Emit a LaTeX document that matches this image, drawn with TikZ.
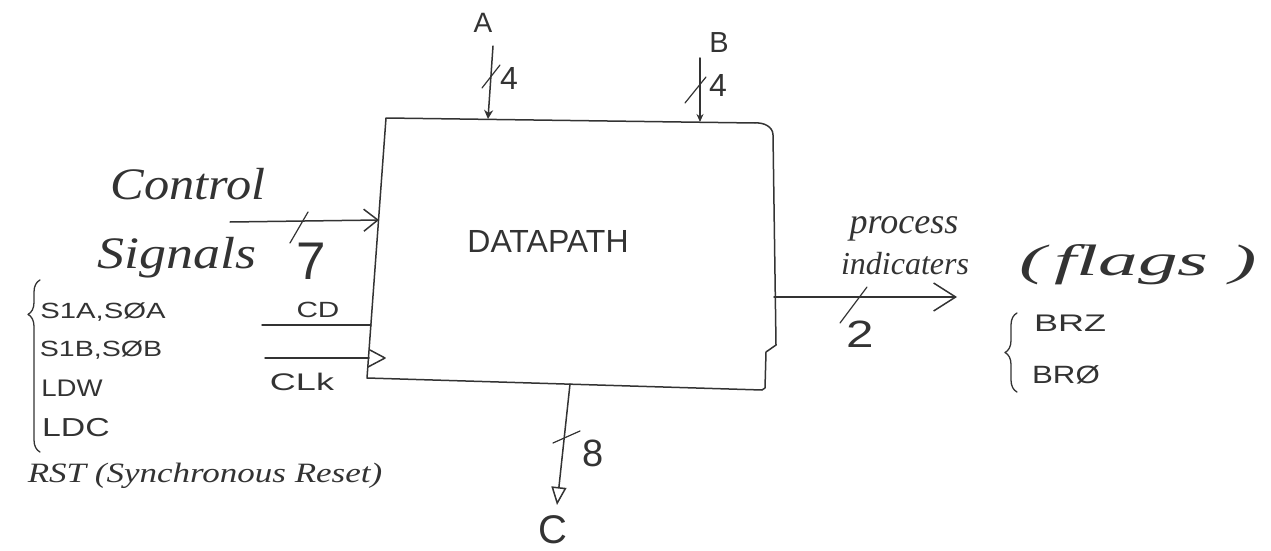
\documentclass[tikz,border=0pt]{standalone}
\usepackage{graphicx}
\usepackage{fontspec}
\setmainfont{Liberation Sans}
\newfontfamily\cursivefont{Liberation Serif}
\usetikzlibrary{arrows.meta,decorations.pathreplacing}
\newcommand\hsc[2]{\scalebox{#1}[1]{#2}}
\newcommand\fs[1]{\fontsize{#1}{#1}\selectfont}
\begin{document}
\begin{tikzpicture}[x=1pt,y=-1pt,
  line/.style={draw=black!80,line width=1.5pt,line cap=round,line join=round},
  busslash/.style={line,line width=1.2pt},
  lbl/.style={inner sep=0pt,text=black!80},
  hand/.style={inner sep=0pt,text=black!80,font=\cursivefont\itshape},
  bracestyle/.style={line,line width=1.3pt,decorate,decoration={brace,amplitude=12pt}}]
\useasboundingbox (0,0) rectangle (1271,551);
% ---------------- main block
\coordinate (TL) at (386,118);
\coordinate (TR) at (773,135);
\coordinate (BR) at (762,390);
\coordinate (BL) at (367,378);
\draw[line] (TL) -- (755,123) to[out=5,in=90] (TR) -- (776,345) -- (766,352) -- (765,388) -- (BR) -- (BL) -- cycle;
\node[lbl,font=\fs{32}] (dp) at (548,241) {DATAPATH};
% ---------------- A input
\node[lbl,font=\fs{28}] (A) at (483,23) {A};
\coordinate (As) at (493,46);
\coordinate (Ain) at (488,119);
\draw[line,-{Stealth[length=9pt,width=9pt]}] (As) -- (Ain);
\draw[busslash] (482,88) -- (500,65);
\node[lbl,font=\fs{32}] (A4) at (509,78) {4};
% ---------------- B input
\node[lbl,font=\fs{29}] (B) at (719,43) {B};
\coordinate (Bs) at (700,58);
\coordinate (Bin) at (700,122);
\draw[line,-{Stealth[length=8pt,width=7pt]}] (Bs) -- (Bin);
\draw[busslash] (685,103) -- (706,77);
\node[lbl,font=\fs{32}] (B4) at (718,85) {4};
% ---------------- control signals
\node[hand,font=\cursivefont\itshape\fs{45}] (ctl) at (188,184) {\hsc{1.12}{Control}};
\node[hand,font=\cursivefont\itshape\fs{45},anchor=base west] (sgn) at (97,268) {\hsc{1.2}{Signals}};
\coordinate (Cs) at (230,222);
\coordinate (Cin) at (379,220);
\draw[line,-{Straight Barb[length=14pt,width=22pt]}] (Cs) -- (Cin);
\draw[busslash] (290,243) -- (308,212);
\node[lbl,font=\fs{53}] (seven) at (311,261) {7};
% ---------------- CD
\node[lbl,font=\fs{22}] (CD) at (318,310) {\hsc{1.35}{CD}};
\coordinate (CDs) at (262,325);
\coordinate (CDin) at (371,325);
\draw[line] (CDs) -- (CDin);
% ---------------- CLK
\node[lbl,font=\fs{24}] (CLK) at (302,382) {\hsc{1.5}{CLk}};
\coordinate (CKs) at (265,358);
\coordinate (CKin) at (369,358);
\draw[line] (CKs) -- (CKin);
\draw[line] (370,350) -- (385,358) -- (368,367);
% ---------------- left list
\draw[bracestyle,decoration={aspect=0.8}] (40,452) -- (40,280);
\node[lbl,font=\fs{22}] (l1) at (103,312) {\hsc{1.33}{S1A,S\O A}};
\node[lbl,font=\fs{22}] (l2) at (101,350) {\hsc{1.3}{S1B,S\O B}};
\node[lbl,font=\fs{24}] (l3) at (72,388) {\hsc{1.15}{LDW}};
\node[lbl,font=\fs{26}] (l4) at (76,428) {\hsc{1.3}{LDC}};
\node[hand,font=\cursivefont\itshape\fs{28}] (l5) at (205,476) {\hsc{1.25}{RST (Synchronous Reset)}};
% ---------------- output flags
\coordinate (Fo) at (774,297);
\coordinate (Fe) at (957,297);
\draw[line,-{Straight Barb[length=22pt,width=28pt]}] (Fo) -- (Fe);
\draw[busslash] (840,323) -- (867,287);
\node[lbl,font=\fs{38}] (two) at (860,334) {\hsc{1.3}{2}};
\node[hand,font=\cursivefont\itshape\fs{36}] (proc) at (904,229) {process};
\node[hand,font=\cursivefont\itshape\fs{32}] (ind) at (905,264) {indicaters};
\node[hand,font=\cursivefont\itshape\fs{44}] (flg) at (1138,265) {\hsc{1.8}{(\hspace{5pt}flags\hspace{12pt})}};
\draw[bracestyle] (1017,392) -- (1017,313);
\node[lbl,font=\fs{24}] (brz) at (1070,323) {\hsc{1.5}{BRZ}};
\node[lbl,font=\fs{25}] (bro) at (1066,375) {\hsc{1.25}{BR\O}};
% ---------------- C output
\coordinate (Co) at (570,384);
\coordinate (Ce) at (557,505);
\draw[line,-{Triangle[open,length=18pt,width=15pt]}] (Co) -- (Ce);
\draw[busslash] (553,443) -- (580,431);
\node[lbl,font=\fs{38}] (eight) at (593,453) {8};
\node[lbl,font=\fs{40}] (C) at (553,530) {C};
\end{tikzpicture}
\end{document}
